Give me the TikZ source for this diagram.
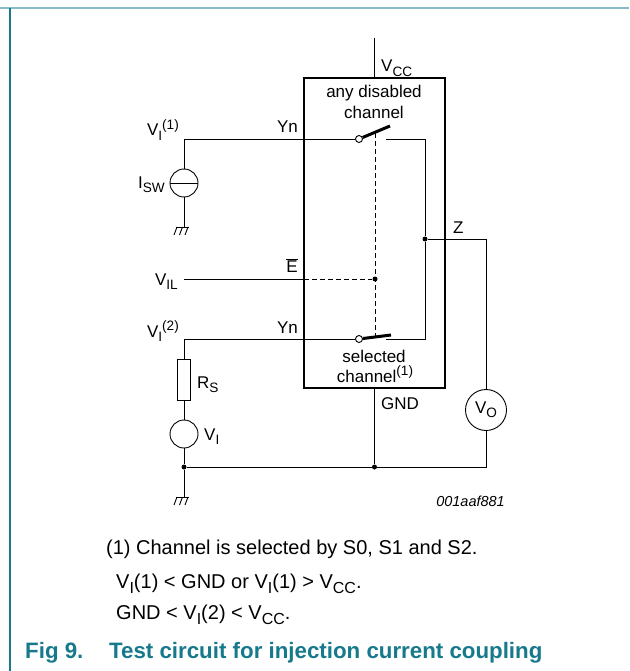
\documentclass[tikz,border=0pt]{standalone}
\usepackage{fontspec}
\setmainfont{Liberation Sans}
\usepackage{graphicx}

\definecolor{nxpteal}{HTML}{17798C}
\definecolor{frameline}{HTML}{86BCC8}

\newcommand{\lowtxt}[1]{\raisebox{-0.25em}{\scalebox{0.8}{#1}}}
\newcommand{\hightxt}[1]{\raisebox{0.4em}{\scalebox{0.8}{#1}}}

\tikzset{
  wire/.style={black, line width=0.9pt},
  chip/.style={draw, black, line width=2.6pt},
  lever/.style={black, line width=3pt},
  ctl/.style={black, line width=0.9pt, dash pattern=on 5pt off 3pt},
  dot/.style={circle, fill=black, inner sep=0pt, minimum size=5pt},
  lbl/.style={font=\fontsize{17}{20}\selectfont},
  note/.style={font=\fontsize{20}{24}\selectfont, anchor=base west},
  figcap/.style={font=\fontsize{22.3}{26}\selectfont\bfseries, text=nxpteal, anchor=base west},
  chassis/.pic={
    \draw [wire] (-8,0) -- (5,0);
    \foreach \x in {-7,-1.5,4} \draw [wire] (\x,0) -- (\x-3,-8);
  }
}

\begin{document}
\begin{tikzpicture}[x=1pt,y=1pt]
\tikzstyle{every node}+=[inner sep=0pt]
\useasboundingbox (0,0) rectangle (629,-671);
% page frame
\draw [frameline, line width=2pt] (0,-8) -- (629,-8);
\draw [nxpteal, line width=1.5pt] (10,-8) -- (10,-671);

% the switch chip
\node [chip, minimum width=141pt, minimum height=310pt] (box) at (374.5,-233) {};
\coordinate (vcctop) at (374.5,-38);
\draw [wire] (vcctop) -- (box.north);

% switches
\node [circle, draw, wire, fill=white, minimum size=7pt] (swa) at (359,-139) {};
\node [circle, draw, wire, fill=white, minimum size=7pt] (swb) at (359,-339) {};
\coordinate (leva) at (390,-126);
\coordinate (levb) at (391,-335);
\draw [lever] (swa) -- (leva);
\draw [lever] (swb) -- (levb);
\coordinate (cona) at (386,-139);
\coordinate (conb) at (386,-339);
\coordinate (bendtop) at (425,-139);
\coordinate (bendbot) at (425,-339);
\node [dot] (zjn) at (425,-239) {};
\draw [wire] (cona) -- (bendtop) -- (zjn);
\draw [wire] (conb) -- (bendbot) -- (zjn);

% enable line
\coordinate (ctltop) at (375,-133);
\coordinate (ctlbot) at (375,-336);
\draw [ctl] (ctltop) -- (ctlbot);
\coordinate (vilpt) at (184,-279);
\coordinate (epin) at (304,-279);
\node [dot] (ejn) at (375,-279) {};
\draw [wire] (vilpt) -- (epin);
\draw [ctl] (epin) -- (ejn);

% injection source
\coordinate (vi1pt) at (184,-139);
\node [circle, draw, wire, minimum size=28pt] (isw) at (184,-183) {};
\coordinate (gnda) at (184,-227);
\draw [wire] (vi1pt) -- (swa);
\draw [wire] (vi1pt) -- (isw) -- (gnda);
\draw [wire] (isw.west) -- (isw.east);
\pic at (gnda) {chassis};

% selected channel source
\coordinate (vi2pt) at (184,-339);
\node [draw, wire, minimum width=13pt, minimum height=41pt] (rs) at (184,-379.5) {};
\node [circle, draw, wire, minimum size=28pt] (vsrc) at (184,-434) {};
\node [dot] (ljn) at (184,-467) {};
\coordinate (gndb) at (184,-497);
\draw [wire] (vi2pt) -- (swb);
\draw [wire] (vi2pt) -- (rs) -- (vsrc) -- (ljn) -- (gndb);
\pic at (gndb) {chassis};

% output meter and ground rail
\coordinate (ztop) at (486,-239);
\node [circle, draw, wire, minimum size=41pt, lbl] (vo) at (486,-410) {V\lowtxt{O}};
\coordinate (zbot) at (486,-467);
\node [dot] (gjn) at (374.5,-467) {};
\draw [wire] (zjn) -- (ztop) -- (vo) -- (zbot) -- (gjn) -- (ljn);
\draw [wire] (box.south) -- (gjn);

% labels
\node [lbl, anchor=base west] (vcclbl) at (381,-72) {V\lowtxt{CC}};
\node [lbl, anchor=base] (dis1) at (374,-98) {any disabled};
\node [lbl, anchor=base] (dis2) at (374,-119) {channel};
\node [lbl, anchor=base east] (yna) at (298,-133) {Yn};
\node [lbl, anchor=base east] (vi1lbl) at (179,-136) {V\lowtxt{I}\hightxt{(1)}};
\node [lbl, anchor=base east] (iswlbl) at (165,-188) {I\lowtxt{SW}};
\node [lbl, anchor=base west] (zlbl) at (453,-233) {Z};
\node [lbl, anchor=base east] (elbl) at (298,-272) {$\overline{\mbox{E}}$};
\node [lbl, anchor=base east] (villbl) at (178,-285) {V\lowtxt{IL}};
\node [lbl, anchor=base east] (ynb) at (298,-333) {Yn};
\node [lbl, anchor=base east] (vi2lbl) at (179,-337) {V\lowtxt{I}\hightxt{(2)}};
\node [lbl, anchor=base west] (rslbl) at (197,-388) {R\lowtxt{S}};
\node [lbl, anchor=base west] (vilbl) at (204,-440) {V\lowtxt{I}};
\node [lbl, anchor=base] (sel1) at (374,-362) {selected};
\node [lbl, anchor=base] (sel2) at (375,-382) {channel\hightxt{(1)}};
\node [lbl, anchor=base west] (gndlbl) at (381,-409) {GND};
\node [font=\fontsize{14.5}{17}\selectfont\itshape, anchor=base east] (code) at (505,-506) {001aaf881};

% notes and caption
\node [note] (note1) at (106,-554) {(1) Channel is selected by S0, S1 and S2.};
\node [note] (note2) at (116,-588) {V\lowtxt{I}(1) < GND or V\lowtxt{I}(1) > V\lowtxt{CC}.};
\node [note] (note3) at (116,-619) {GND < V\lowtxt{I}(2) < V\lowtxt{CC}.};
\node [figcap] (fignum) at (25,-658) {Fig 9.};
\node [figcap] (figtitle) at (109,-658) {Test circuit for injection current coupling};
\end{tikzpicture}
\end{document}
